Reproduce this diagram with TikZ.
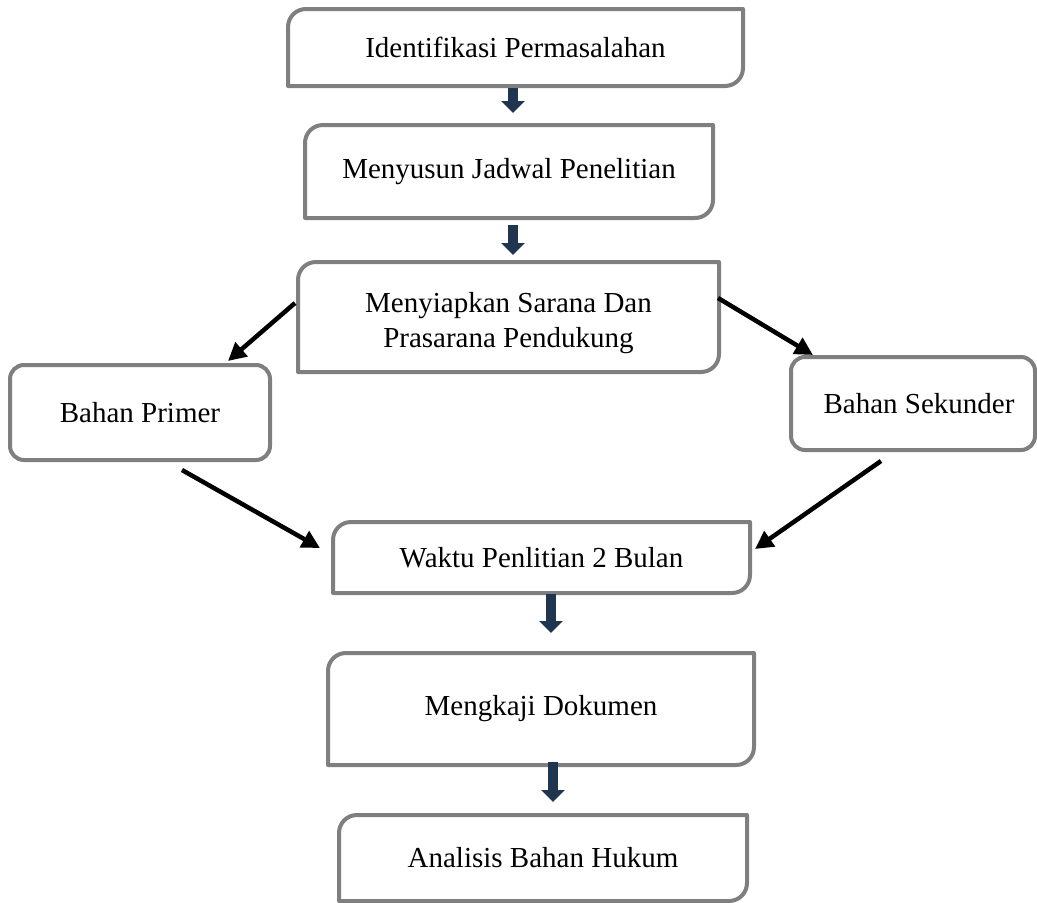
\documentclass[tikz,border=0pt]{standalone}
\usepackage{fontspec}
\setmainfont{Liberation Serif}
\usetikzlibrary{arrows.meta,calc}
\definecolor{boxgray}{HTML}{7F7F7F}
\definecolor{navy}{HTML}{1F3550}
\newcommand{\diagbox}[1]{%
  \draw[boxline] (#1.south west) -- ([yshift=-18pt]#1.north west)
    .. controls ([yshift=-8pt]#1.north west) and ([xshift=8pt]#1.north west) .. ([xshift=18pt]#1.north west)
    -- (#1.north east) -- ([yshift=18pt]#1.south east)
    .. controls ([yshift=8pt]#1.south east) and ([xshift=-8pt]#1.south east) .. ([xshift=-18pt]#1.south east)
    -- cycle;}
\tikzset{
  boxline/.style={draw=boxgray,line width=4pt,line join=round,fill=white},
  boxnode/.style={inner sep=0pt,outer sep=0pt,align=center,
    font=\fontsize{29}{35}\selectfont},
  roundbox/.style={boxnode,draw=boxgray,line width=4pt,fill=white,rounded corners=14pt},
  downarrow/.style={draw=navy,line width=10pt,-{Triangle[width=23pt,length=12pt]}},
  diagarrow/.style={draw=black,line width=4.5pt,-{Triangle[width=18pt,length=18pt]}}
}
\begin{document}
\begin{tikzpicture}[x=1pt,y=1pt]
\useasboundingbox (0,0) rectangle (1037,-903);
% box shapes (drawn first, text nodes later)
\node[boxnode,minimum width=455pt,minimum height=77pt] (b1) at (515.5,-47.5) {};
\node[boxnode,minimum width=408pt,minimum height=93pt] (b2) at (509,-171.5) {};
\node[boxnode,minimum width=421pt,minimum height=110pt] (b3) at (508.5,-317) {};
\node[boxnode,minimum width=417pt,minimum height=71pt] (b5) at (541.5,-557.5) {};
\node[boxnode,minimum width=426pt,minimum height=112pt] (b6) at (541,-709) {};
\node[boxnode,minimum width=408pt,minimum height=86pt] (b7) at (543,-858) {};
\diagbox{b1}
\diagbox{b2}
\diagbox{b3}
\diagbox{b5}
\diagbox{b6}
\diagbox{b7}
\node[boxnode] at (b1) {Identifikasi Permasalahan};
\node[boxnode] at (b2) {Menyusun Jadwal Penelitian};
\node[boxnode] at ([yshift=-6pt]b3.center) {Menyiapkan Sarana Dan\\Prasarana Pendukung};
\node[boxnode] at (b5) {Waktu Penlitian 2 Bulan};
\node[boxnode] at (b6) {Mengkaji Dokumen};
\node[boxnode] at (b7) {Analisis Bahan Hukum};
\node[roundbox,minimum width=260pt,minimum height=95pt] (prim) at (140,-412.5) {Bahan Primer};
\node[roundbox,minimum width=244pt,minimum height=93pt] (sek) at (913,-403.5) {\hspace*{12pt}Bahan Sekunder};
% down block arrows
\draw[downarrow] ([xshift=-2.5pt,yshift=-2pt]b1.south) -- ([xshift=4pt,yshift=12pt]b2.north);
\draw[downarrow] ([xshift=4pt,yshift=-7pt]b2.south) -- ([xshift=4.5pt,yshift=7pt]b3.north);
\draw[downarrow] ([xshift=9.5pt,yshift=-1pt]b5.south) -- ([xshift=10pt,yshift=20pt]b6.north);
\draw[downarrow] ([xshift=12pt,yshift=3pt]b6.south) -- ([xshift=10pt,yshift=13pt]b7.north);
% diagonal arrows
\draw[diagarrow] ([xshift=-3pt,yshift=14pt]b3.west) -- ([xshift=88pt,yshift=4pt]prim.north);
\draw[diagarrow] ([xshift=-1pt,yshift=19pt]b3.east) -- ([xshift=-100pt,yshift=2pt]sek.north);
\draw[diagarrow] ([xshift=42pt,yshift=-10pt]prim.south) -- ([xshift=-13pt,yshift=9.5pt]b5.west);
\draw[diagarrow] ([xshift=-32pt,yshift=-11pt]sek.south) -- ([xshift=5pt,yshift=8.5pt]b5.east);
\end{tikzpicture}
\end{document}
